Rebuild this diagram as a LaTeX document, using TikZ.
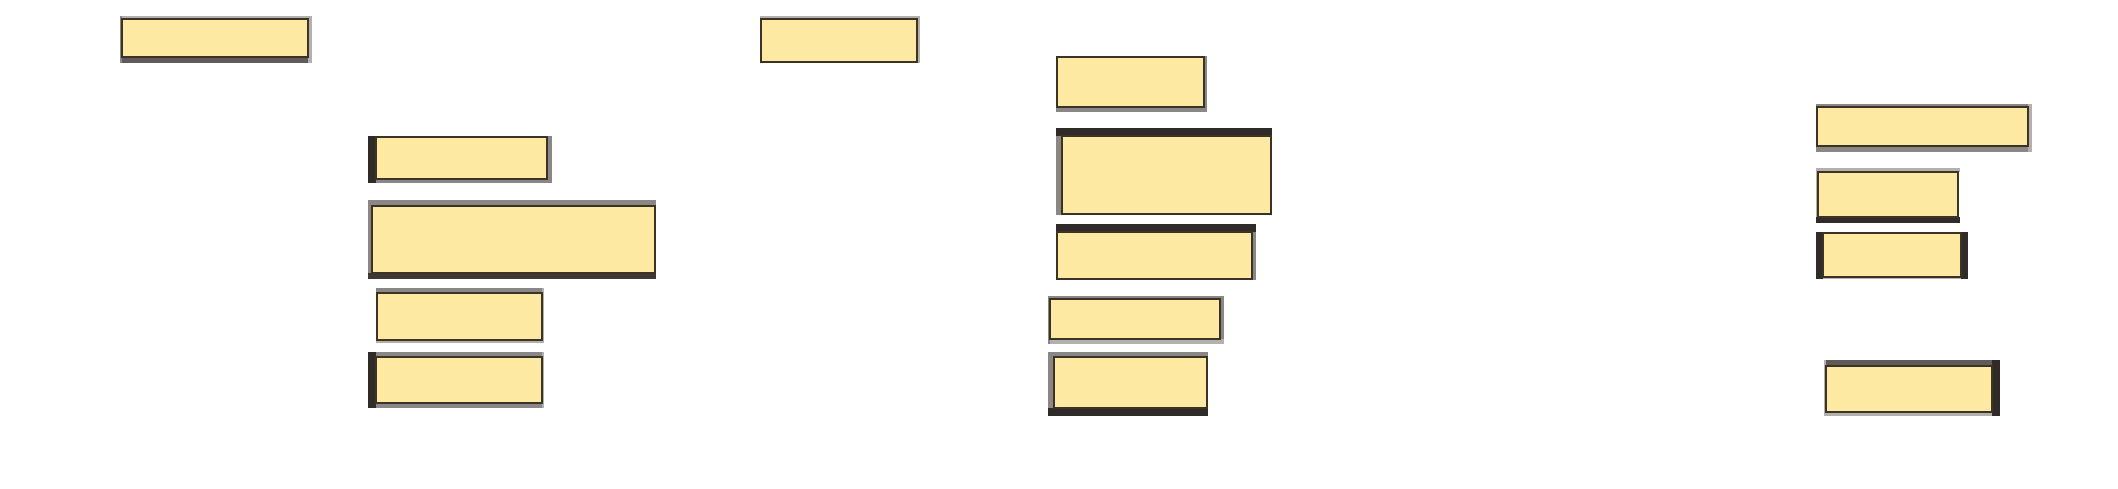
\documentclass[tikz,border=0pt]{standalone}
\definecolor{boxfill}{HTML}{FDE9A1}
\definecolor{boxline}{HTML}{3B3323}
\definecolor{lgray}{HTML}{B3B0AE}
\definecolor{mgray}{HTML}{8A8786}
\definecolor{dgray}{HTML}{5E5B5A}
\definecolor{blk}{HTML}{2F2B28}
\tikzset{
  inbox/.style={fill=boxfill, draw=boxline, line width=0.8pt},
  lg/.style={fill=lgray},
  mg/.style={fill=mgray},
  dg/.style={fill=dgray},
  bk/.style={fill=blk}
}
\begin{document}
\begin{tikzpicture}[x=0.5pt,y=-0.5pt]
\useasboundingbox (0,0) rectangle (2118,488);
% Box 1
\fill[lg] (120,16) rectangle (312,19);
\fill[dg] (120,57) rectangle (312,63);
\fill[mg] (120,16) rectangle (122,63);
\fill[lg] (308,16) rectangle (312,63);
\draw[inbox] (122,19) rectangle (308,57);
% Box 2
\fill[lg] (760,16) rectangle (920,19);
\fill[lg] (917,16) rectangle (920,63);
\draw[inbox] (761,19) rectangle (917,62);
% Box 3
\fill[mg] (1056,107) rectangle (1207,112);
\fill[mg] (1204,56) rectangle (1207,112);
\draw[inbox] (1057,57) rectangle (1204,107);
% Box 4
\fill[mg] (1056,128) rectangle (1062,215);
\fill[bk] (1056,128) rectangle (1272,136);
\draw[inbox] (1062,136) rectangle (1271,214);
% Box 5
\fill[mg] (368,179) rectangle (552,183);
\fill[mg] (547,136) rectangle (552,183);
\fill[bk] (368,136) rectangle (376,183);
\draw[inbox] (376,137) rectangle (547,179);
% Box 6
\fill[mg] (368,200) rectangle (656,206);
\fill[mg] (368,200) rectangle (372,279);
\fill[blk!85!gray] (368,273) rectangle (656,279);
\draw[inbox] (372,206) rectangle (655,273);
% Box 7
\fill[mg] (376,288) rectangle (544,293);
\fill[lg] (376,340) rectangle (544,343);
\fill[lg] (542,288) rectangle (544,343);
\draw[inbox] (377,293) rectangle (542,340);
% Box 8
\fill[mg] (368,352) rectangle (544,357);
\fill[mg] (368,403) rectangle (544,408);
\fill[lg] (542,352) rectangle (544,408);
\fill[bk] (368,352) rectangle (376,408);
\draw[inbox] (376,357) rectangle (542,403);
% Box 9
\fill[mg] (1252,224) rectangle (1256,280);
\fill[bk] (1056,224) rectangle (1256,232);
\draw[inbox] (1057,232) rectangle (1252,279);
% Box 10
\fill[mg] (1048,296) rectangle (1224,299);
\fill[mg] (1220,296) rectangle (1224,344);
\fill[lg] (1048,339) rectangle (1224,344);
\fill[mg] (1048,296) rectangle (1050,344);
\draw[inbox] (1050,299) rectangle (1220,339);
% Box 11
\fill[mg] (1048,352) rectangle (1208,357);
\fill[mg] (1048,352) rectangle (1054,416);
\fill[bk] (1048,408) rectangle (1208,416);
\draw[inbox] (1054,357) rectangle (1207,408);
% Box 12
\fill[mg] (1816,104) rectangle (2032,107);
\fill[mg] (1816,146) rectangle (2032,152);
\fill[lg] (2028,104) rectangle (2032,152);
\draw[inbox] (1817,107) rectangle (2028,146);
% Box 13
\fill[lg] (1816,168) rectangle (1960,172);
\fill[lg] (1816,168) rectangle (1818,223);
\fill[bk] (1816,217) rectangle (1960,223);
\draw[inbox] (1818,172) rectangle (1958,217);
% Box 14
\fill[lg] (1816,277) rectangle (1968,279);
\fill[bk] (1816,232) rectangle (1823,279);
\fill[bk] (1961,232) rectangle (1968,279);
\draw[inbox] (1823,233) rectangle (1961,277);
% Box 15
\fill[dg] (1824,360) rectangle (2000,366);
\fill[lg] (1824,412) rectangle (2000,416);
\fill[lg] (1824,360) rectangle (1826,416);
\fill[bk] (1992,360) rectangle (2000,416);
\draw[inbox] (1826,366) rectangle (1992,412);
\end{tikzpicture}
\end{document}
